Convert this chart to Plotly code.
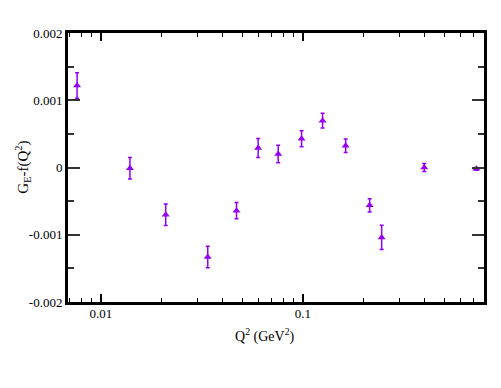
import numpy as np
import plotly.graph_objects as go

# Q^2 (GeV^2) and G_E - f(Q^2) residuals
q2 = [0.00763, 0.01393, 0.02094, 0.0338, 0.0469, 0.0600, 0.0754,
      0.0984, 0.125, 0.1626, 0.2137, 0.245, 0.398, 0.721]
resid = [0.00122, -0.00001, -0.000702, -0.00133, -0.000642, 0.00029, 0.0002,
         0.000428, 0.000696, 0.000324, -0.000563, -0.00104, 0.0, -0.00002]
err = [0.00019, 0.00016, 0.00016, 0.00016, 0.00012, 0.00014, 0.00013,
       0.00012, 0.00011, 0.0001, 0.0001, 0.00018, 0.00006, 0.00002]

x_major = [0.01, 0.1]
x_major_text = ["0.01", "0.1"]
x_minor = [0.007, 0.008, 0.009, 0.02, 0.03, 0.04, 0.05, 0.06, 0.07, 0.08,
           0.09, 0.2, 0.3, 0.4, 0.5, 0.6, 0.7]
y_major = [-0.002, -0.001, 0, 0.001, 0.002]
y_major_text = ["-0.002", "-0.001", "0", "0.001", "0.002"]

purple = "#9400F5"
font = "Liberation Serif, Times New Roman, serif"
xr = [np.log10(0.00688), np.log10(0.786)]

fig = go.Figure()
fig.add_trace(go.Scatter(
    x=q2, y=resid, mode="markers",
    marker=dict(symbol="triangle-up", size=7, color=purple),
    error_y=dict(type="data", array=err, visible=True, color=purple,
                 thickness=1.5, width=2),
    showlegend=False, hoverinfo="skip"
))
# invisible trace on the minor-tick axis
fig.add_trace(go.Scatter(x=[q2[0]], y=[resid[0]], xaxis="x2", mode="markers",
                         marker=dict(opacity=0), showlegend=False, hoverinfo="skip"))

# page body adds 8px offset, so margins are shifted to compensate
fig.update_layout(
    width=501, height=388,
    margin=dict(l=60, r=25, t=25, b=94),
    paper_bgcolor="white", plot_bgcolor="white",
    font=dict(family=font, size=13, color="black"),
    xaxis=dict(type="log", range=xr, tickvals=x_major, ticktext=x_major_text,
               ticks="inside", ticklen=8, tickwidth=1.5, tickcolor="black",
               showline=True, linewidth=3, linecolor="black", mirror="ticks",
               showgrid=False, zeroline=False, tickfont=dict(size=13),
               ticklabelstandoff=-3),
    xaxis2=dict(type="log", range=xr, overlaying="x", side="bottom",
                tickvals=x_minor, showticklabels=False,
                ticks="inside", ticklen=4, tickwidth=1, tickcolor="black",
                showline=False, mirror="ticks", showgrid=False, zeroline=False),
    yaxis=dict(range=[-0.002, 0.002], tickvals=y_major, ticktext=y_major_text,
               ticks="inside", ticklen=12, tickwidth=1.5, tickcolor="#333",
               minor=dict(dtick=0.0005, ticks="inside", ticklen=6, tickcolor="#333"),
               showline=True, linewidth=3, linecolor="black", mirror="ticks",
               showgrid=False, zeroline=False, tickfont=dict(size=13)),
    annotations=[
        dict(text="Q<sup>2</sup> (GeV<sup>2</sup>)", xref="paper", yref="paper",
             x=0.474, y=-0.125, xanchor="center", yanchor="middle",
             showarrow=False, font=dict(size=14)),
        dict(text="G<sub>E</sub>-f(Q<sup>2</sup>)", xref="paper", yref="paper",
             x=-0.11, y=0.5, xanchor="center", yanchor="middle", textangle=-90,
             showarrow=False, font=dict(size=15)),
    ],
)

fig.write_html("out.html")
